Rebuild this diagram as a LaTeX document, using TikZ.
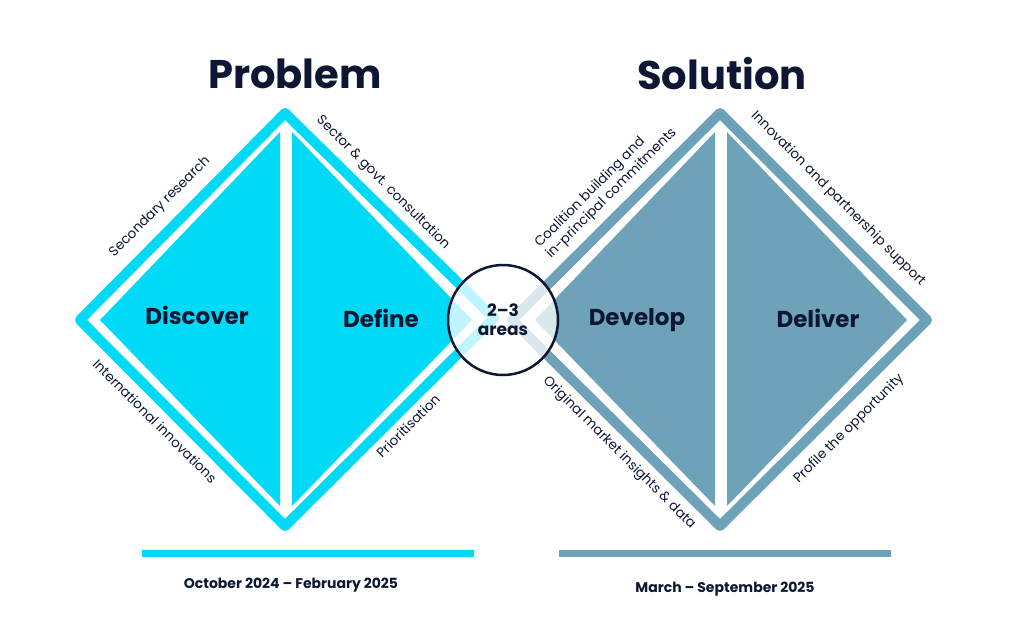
\documentclass[tikz,border=0pt]{standalone}
\usepackage{fontspec}
\setmainfont{Poppins}
\begin{document}
\begin{tikzpicture}[x=1pt,y=-1pt,
  lbl/.style={font=\fontsize{13.5}{16}\selectfont, text=navy, align=center},
  big/.style={font=\fontsize{23}{25}\selectfont\bfseries, text=navy},
  head/.style={font=\fontsize{40}{44}\selectfont\bfseries, text=navy},
  date/.style={font=\fontsize{14}{16}\selectfont\bfseries, text=navy}]
\definecolor{cy}{HTML}{00DAF7}
\definecolor{sl}{HTML}{6EA2B8}
\definecolor{navy}{HTML}{0D1733}
\useasboundingbox (0,0) rectangle (1024,642);
\fill[white] (0,0) rectangle (1024,642);
% left diamond
\fill[cy] (280,132) -- (100,320) -- (280,506) -- cycle;
\fill[cy] (292,132) -- (472,320) -- (292,506) -- cycle;
\draw[cy, line width=10, line join=round] (285,113) -- (80,320) -- (285,526) -- (494,318) -- cycle;
% right diamond
\fill[sl] (715,132) -- (535,320) -- (715,506) -- cycle;
\fill[sl] (727,132) -- (907,320) -- (727,506) -- cycle;
\draw[sl, line width=10, line join=round] (720,113) -- (512,320) -- (720,526) -- (927,320) -- cycle;
% circle
\node[circle, draw=navy, line width=2.5, fill=white, fill opacity=0.75, text opacity=1, minimum size=110,
  font=\fontsize{17}{19}\selectfont\bfseries, text=navy, align=center] (c) at (503,320) {2--3\\areas};
\node[head] (p) at (295,74) {Problem};
\node[head] (s) at (722,74) {Solution};
\node[big] (d1) at (197,315) {Discover};
\node[big] (d2) at (381,318) {Define};
\node[big] (d3) at (637,320) {Develop};
\node[big] (d4) at (818,318) {Deliver};
\node[lbl, rotate=45] (l1) at (160,207) {Secondary research};
\node[lbl, rotate=-45] (l2) at (383,183) {Sector \& govt. consultation};
\node[lbl, rotate=-45] (l3) at (155,421) {International innovations};
\node[lbl, rotate=45] (l4) at (408,426) {Prioritisation};
\node[lbl, rotate=45, align=left] (l5) at (606,188) {Coalition building and\\in-principal commitments};
\node[lbl, rotate=-45] (l6) at (838,199) {Innovation and partnership support};
\node[lbl, rotate=-45] (l7) at (619,453) {Original market insights \& data};
\node[lbl, rotate=45] (l8) at (849,429) {Profile the opportunity};
\fill[cy] (142,550) rectangle (474,557);
\fill[sl] (559,550) rectangle (891,557);
\node[date] (t1) at (291,585) {October 2024 -- February 2025};
\node[date] (t2) at (725,589) {March -- September 2025};
\end{tikzpicture}
\end{document}
